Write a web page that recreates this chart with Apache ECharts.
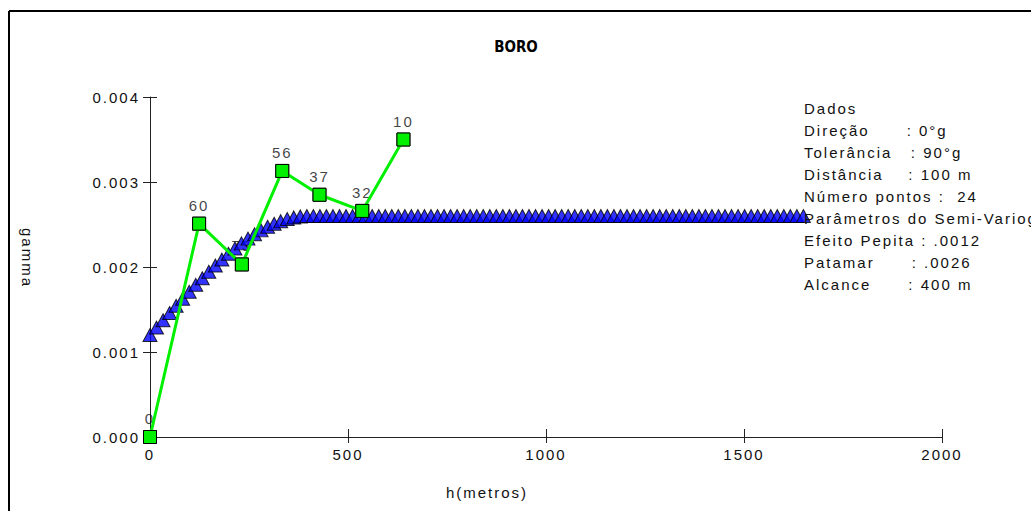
<!DOCTYPE html>
<html>
<head>
<meta charset="utf-8">
<script src="https://cdn.jsdelivr.net/npm/echarts@6/dist/echarts.min.js"></script>
<style>
  html, body { margin: 0; padding: 0; background: #ffffff; }
  #chart { width: 1031px; height: 511px; }
  /* wide spacing of the old dialog font */
  #chart text { letter-spacing: 2px; }
  #chart text[style*="bold"] { letter-spacing: 0; }
</style>
</head>
<body>
<div id="chart"></div>
<script>
// Experimental semivariogram (lag distance, gamma, number of pairs)
const lagDistance = [0, 124, 232, 334, 428, 536, 640];
const gammaValue = [0, 0.00251, 0.00203, 0.00313, 0.00285, 0.00266, 0.00350];
const pairCount = [0, 60, 73, 56, 37, 32, 10];

// Fitted spherical model (nugget .0012, sill .0026, range 400 m)
const modelLag = [
  0, 16.5, 33, 49.5, 66, 82.5, 99, 115.5, 132, 148.5,
  165, 181.5, 198, 214.5, 231, 247.5, 264, 280.5, 297, 313.5,
  330, 346.5, 363, 379.5, 396, 412.5, 429, 445.5, 462, 478.5,
  495, 511.5, 528, 544.5, 561, 577.5, 594, 610.5, 627, 643.5,
  660, 676.5, 693, 709.5, 726, 742.5, 759, 775.5, 792, 808.5,
  825, 841.5, 858, 874.5, 891, 907.5, 924, 940.5, 957, 973.5,
  990, 1006.5, 1023, 1039.5, 1056, 1072.5, 1089, 1105.5, 1122, 1138.5,
  1155, 1171.5, 1188, 1204.5, 1221, 1237.5, 1254, 1270.5, 1287, 1303.5,
  1320, 1336.5, 1353, 1369.5, 1386, 1402.5, 1419, 1435.5, 1452, 1468.5,
  1485, 1501.5, 1518, 1534.5, 1551, 1567.5, 1584, 1600.5, 1617, 1633.5,
  1650
];
const modelGamma = [
  0.001200, 0.001287, 0.001373, 0.001459, 0.001543, 0.001627, 0.001709, 0.001790, 0.001868, 0.001944,
  0.002017, 0.002087, 0.002155, 0.002218, 0.002278, 0.002334, 0.002385, 0.002431, 0.002473, 0.002509,
  0.002539, 0.002564, 0.002583, 0.002595, 0.002600, 0.0026, 0.0026, 0.0026, 0.0026, 0.0026,
  0.0026, 0.0026, 0.0026, 0.0026, 0.0026, 0.0026, 0.0026, 0.0026, 0.0026, 0.0026,
  0.0026, 0.0026, 0.0026, 0.0026, 0.0026, 0.0026, 0.0026, 0.0026, 0.0026, 0.0026,
  0.0026, 0.0026, 0.0026, 0.0026, 0.0026, 0.0026, 0.0026, 0.0026, 0.0026, 0.0026,
  0.0026, 0.0026, 0.0026, 0.0026, 0.0026, 0.0026, 0.0026, 0.0026, 0.0026, 0.0026,
  0.0026, 0.0026, 0.0026, 0.0026, 0.0026, 0.0026, 0.0026, 0.0026, 0.0026, 0.0026,
  0.0026, 0.0026, 0.0026, 0.0026, 0.0026, 0.0026, 0.0026, 0.0026, 0.0026, 0.0026,
  0.0026, 0.0026, 0.0026, 0.0026, 0.0026, 0.0026, 0.0026, 0.0026, 0.0026, 0.0026,
  0.0026
];

// Axis ticks
const xTicks = [0, 500, 1000, 1500, 2000];
const yTicks = [0, 0.001, 0.002, 0.003, 0.004];

// Info panel lines
const infoLines = [
  'Dados',
  'Direção      : 0°g',
  'Tolerância   : 90°g',
  'Distância    : 100 m',
  'Número pontos :  24',
  'Parâmetros do Semi-Variograma',
  'Efeito Pepita : .0012',
  'Patamar      : .0026',
  'Alcance      : 400 m'
];

const FONT = "'Liberation Sans', Arial, sans-serif";
const TEXT = '#111111';
const GREEN = '#00f000';
const BLUE = '#0000ff';

const expPoints = lagDistance.map((x, i) => [x, gammaValue[i]]);
const modelPoints = modelLag.map((x, i) => [x, modelGamma[i]]);

const chart = echarts.init(document.getElementById('chart'), null, { renderer: 'svg' });

const baseX = {
  type: 'value', gridIndex: 0,
  min: xTicks[0], max: xTicks[xTicks.length - 1], interval: 500,
  splitLine: { show: false }
};
const baseY = {
  type: 'value', gridIndex: 0,
  min: yTicks[0], max: yTicks[yTicks.length - 1], interval: 0.001,
  splitLine: { show: false }
};

const infoGraphics = infoLines.map((t, i) => ({
  type: 'text', left: 804, top: 101 + i * 22, z: 10,
  style: { text: t, fill: TEXT, font: '15px ' + FONT }
}));

chart.setOption({
  animation: false,
  backgroundColor: '#ffffff',
  grid: { left: 150, right: 89, top: 97, bottom: 74, containLabel: false },
  xAxis: [
    Object.assign({}, baseX, {
      position: 'bottom',
      axisLine: { show: true, lineStyle: { color: '#222', width: 1 } },
      axisTick: { show: true, length: 6, lineStyle: { color: '#222', width: 1 } },
      axisLabel: { margin: 10, fontSize: 15, fontFamily: FONT, color: TEXT, formatter: v => String(v) }
    }),
    Object.assign({}, baseX, {
      position: 'bottom',
      axisLine: { show: false },
      axisTick: { show: true, inside: true, length: 8, lineStyle: { color: '#222', width: 1 } },
      axisLabel: { show: false }
    })
  ],
  yAxis: [
    Object.assign({}, baseY, {
      position: 'left',
      axisLine: { show: true, lineStyle: { color: '#222', width: 1 } },
      axisTick: { show: true, length: 7, lineStyle: { color: '#222', width: 1 } },
      axisLabel: {
        margin: 10, fontSize: 15, fontFamily: FONT, color: TEXT,
        formatter: v => v.toFixed(3)
      }
    }),
    Object.assign({}, baseY, {
      position: 'left',
      axisLine: { show: false },
      axisTick: { show: true, inside: true, length: 7, lineStyle: { color: '#222', width: 1 } },
      axisLabel: { show: false }
    })
  ],
  series: [
    {
      // pair counts written above each experimental point
      type: 'scatter', name: 'pares', xAxisIndex: 0, yAxisIndex: 0, z: 1,
      data: expPoints, symbol: 'rect', symbolSize: 13, clip: false,
      itemStyle: { color: GREEN, borderColor: '#000', borderWidth: 1 },
      label: {
        show: true, position: 'top', distance: 4,
        fontSize: 15, fontFamily: FONT, color: TEXT,
        formatter: p => String(pairCount[p.dataIndex])
      }
    },
    {
      type: 'scatter', name: 'modelo', xAxisIndex: 0, yAxisIndex: 0, z: 2,
      data: modelPoints, symbol: 'triangle', symbolSize: [14, 13], clip: false,
      itemStyle: { color: BLUE, borderColor: '#000', borderWidth: 1 }
    },
    {
      type: 'line', name: 'experimental', xAxisIndex: 0, yAxisIndex: 0, z: 3,
      data: expPoints, symbol: 'rect', symbolSize: 13, showSymbol: true, clip: false,
      lineStyle: { color: GREEN, width: 3 },
      itemStyle: { color: GREEN, borderColor: '#000', borderWidth: 1 }
    }
  ],
  graphic: [
    { type: 'line', z: 10, shape: { x1: 9, y1: 11, x2: 1031, y2: 11 }, style: { stroke: '#000', lineWidth: 2 } },
    { type: 'line', z: 10, shape: { x1: 9, y1: 11, x2: 9, y2: 511 }, style: { stroke: '#000', lineWidth: 2 } },
    {
      type: 'text', x: 516, y: 47, z: 10,
      style: { text: 'BORO', fill: '#000', font: "bold 15px 'Liberation Sans Narrow', 'DejaVu Sans Condensed', sans-serif", textAlign: 'center', textVerticalAlign: 'middle' }
    },
    {
      type: 'text', x: 27, y: 258, rotation: -Math.PI / 2, z: 10,
      style: { text: 'gamma', fill: TEXT, font: '15px ' + FONT, textAlign: 'center', textVerticalAlign: 'middle' }
    },
    {
      type: 'text', x: 487, y: 492, z: 10,
      style: { text: 'h(metros)', fill: TEXT, font: '15px ' + FONT, textAlign: 'center', textVerticalAlign: 'middle' }
    }
  ].concat(infoGraphics)
});
</script>
</body>
</html>
